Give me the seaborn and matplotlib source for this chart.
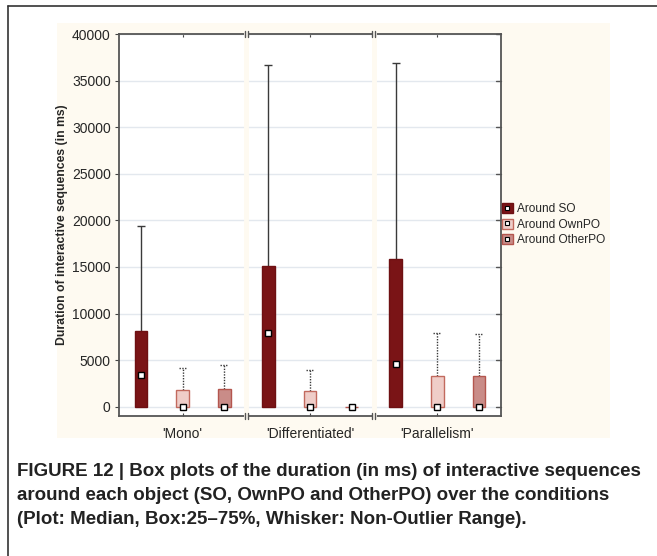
import pandas as pd
import matplotlib.pyplot as plt
import seaborn as sns
from matplotlib.patches import Patch, Rectangle
from matplotlib.lines import Line2D
import matplotlib.transforms as mtransforms

# Summary values (ms); Q1 and minimum are 0 for every box
conditions = ["'Mono'", "'Differentiated'", "'Parallelism'"]
objects = ["Around SO", "Around OwnPO", "Around OtherPO"]
q3_so = [8100, 15100, 15800]
q3_ownpo = [1800, 1650, 3300]
q3_otherpo = [1900, 0, 3300]
med_so = [3450, 7950, 4600]
med_ownpo = [0, 0, 0]
med_otherpo = [0, 0, 0]
max_so = [19400, 36700, 36900]
max_ownpo = [4200, 3950, 7950]
max_otherpo = [4450, 0, 7800]

face_colors = ["#7a1416", "#efcdc8", "#c98c88"]
edge_colors = ["#6e1012", "#c26a5e", "#b4564e"]
cream = "#fefaf1"

rows = []
for obj, q3s in zip(objects, [q3_so, q3_ownpo, q3_otherpo]):
    for cond, q in zip(conditions, q3s):
        rows.append({"condition": cond, "object": obj, "q3": q})
df = pd.DataFrame(rows)

sns.set_style("white")
plt.rcParams['font.family'] = ['Liberation Sans', 'DejaVu Sans']

fig = plt.figure(figsize=(6.57, 5.56), dpi=100)
fig.patch.set_facecolor("white")
# cream panel behind the chart
fig.patches.append(Rectangle((57 / 657, 1 - 438 / 556), 553 / 657, 415 / 556,
                             transform=fig.transFigure, facecolor=cream,
                             edgecolor="none", zorder=-5))
# outer frame (left and top)
fig.lines.append(Line2D([8 / 657, 8 / 657], [0, 1 - 6 / 556], transform=fig.transFigure,
                        color="#333333", lw=1.2))
fig.lines.append(Line2D([8 / 657, 1], [1 - 6 / 556, 1 - 6 / 556], transform=fig.transFigure,
                        color="#333333", lw=1.2))

ax = fig.add_axes([119 / 657, 1 - 416 / 556, 382 / 657, 382 / 556])
ax.set_facecolor("white")

sns.barplot(data=df, x="condition", y="q3", hue="object", palette=face_colors,
            width=0.98, gap=0.7, saturation=1, errorbar=None, legend=False,
            linewidth=1, ax=ax, zorder=3)

meds = [med_so, med_ownpo, med_otherpo]
maxs = [max_so, max_ownpo, max_otherpo]
q3s = [q3_so, q3_ownpo, q3_otherpo]
for k, cont in enumerate(ax.containers):
    for j, bar in enumerate(cont):
        bar.set_edgecolor(edge_colors[k])
        xc = bar.get_x() + bar.get_width() / 2
        ls = "-" if k == 0 else (0, (1, 1))
        if maxs[k][j] > q3s[k][j]:
            ax.vlines(xc, q3s[k][j], maxs[k][j], color="#3a3a3a", lw=1, linestyles=ls, zorder=2)
            ax.hlines(maxs[k][j], xc - 0.032, xc + 0.032, color="#3a3a3a", lw=1,
                      linestyles=ls, zorder=2)
        ax.plot(xc, meds[k][j], marker="s", ms=4.5, mfc="white", mec="black",
                mew=1, ls="none", zorder=5)

ax.set_ylim(-1000, 40000)
ax.set_xlim(-0.5, 2.5)
ax.set_yticks(range(0, 40001, 5000))
ax.yaxis.grid(True, color="#e3e8ee", lw=1, zorder=0)
ax.set_axisbelow(True)
ax.tick_params(axis="y", left=True, right=False, direction="out",
               length=3, labelsize=10, color="#444444", pad=3)
ax.tick_params(axis="x", bottom=True, top=True, direction="in", length=2.5,
               labelsize=10, color="#444444", pad=8)
ax.set_xlabel("")
ax.set_ylabel("Duration of interactive sequences (in ms)", fontsize=8.8,
              fontweight="bold")
ax.yaxis.set_label_coords((68 - 119) / 382, 0.5)
for sp in ax.spines.values():
    sp.set_color("#555555")
    sp.set_linewidth(1.3)

# small inward ticks on the right spine
sec_trans = mtransforms.blended_transform_factory(ax.transAxes, ax.transData)
for yv in range(0, 40001, 5000):
    ax.plot([0.988, 1.0], [yv, yv], transform=sec_trans, color="#555555", lw=1,
            clip_on=False, zorder=6)

# panel separators with break marks
btrans = mtransforms.blended_transform_factory(ax.transData, ax.transAxes)
for xs in [0.5, 1.5]:
    ax.plot([xs, xs], [-0.01, 1.01], transform=btrans, color=cream, lw=3.5,
            clip_on=False, zorder=7, solid_capstyle="butt")
    for dx in [-0.013, 0.013]:
        for yb in [0.0, 1.0]:
            ax.plot([xs + dx, xs + dx], [yb - 0.009, yb + 0.009], transform=btrans,
                    color="#555555", lw=1, clip_on=False, zorder=8)

handles = [(Patch(facecolor=face_colors[i], edgecolor=edge_colors[i]),
            Line2D([], [], marker="s", ms=3.5, mfc="white", mec="black", mew=0.8, ls="none"))
           for i in range(3)]
fig.legend(handles, objects, loc="upper left", bbox_to_anchor=(502 / 657, 1 - 203 / 556),
           frameon=False, fontsize=8.6, handlelength=0.9, handleheight=0.9,
           handletextpad=0.35, labelspacing=0.3, borderpad=0, borderaxespad=0)

caption = ["FIGURE 12 | Box plots of the duration (in ms) of interactive sequences",
           "around each object (SO, OwnPO and OtherPO) over the conditions",
           "(Plot: Median, Box:25\u201375%, Whisker: Non-Outlier Range)."]
for i, line in enumerate(caption):
    fig.text(17 / 657, 1 - (471 + 24 * i) / 556, line, fontsize=13.5, fontweight="bold",
             va="center", ha="left", color="#222222")

fig.savefig("out.png", dpi=100)
